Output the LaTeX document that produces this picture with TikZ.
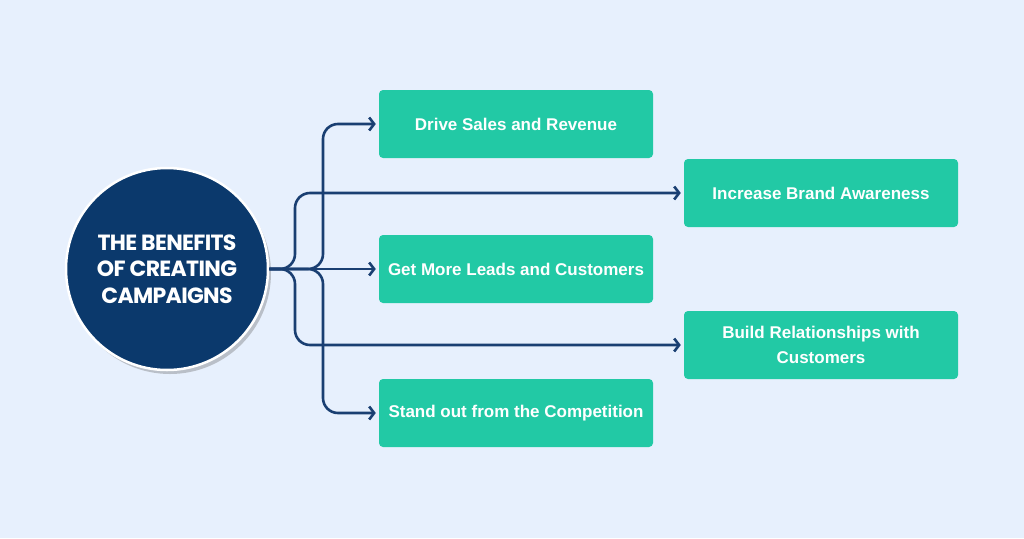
\documentclass[tikz,border=0pt]{standalone}
\usepackage{fontspec}
\usepackage{tikz}
\usetikzlibrary{arrows.meta,shadows}
\setmainfont{Liberation Sans}
\newfontfamily\hubfont[LetterSpace=-3]{Poppins}
\definecolor{cpbg}{HTML}{E7F0FD}
\definecolor{cpnavy}{HTML}{0B396C}
\definecolor{cpline}{HTML}{1A3F72}
\definecolor{cpteal}{HTML}{22C9A5}

\begin{document}
\begin{tikzpicture}[x=1pt,y=-1pt,
   benefit/.style={fill=cpteal,rounded corners=4pt,minimum width=274pt,
                   minimum height=68pt,align=center,text=white,
                   font=\fontsize{17}{25}\selectfont\bfseries},
   hub/.style={circle,fill=cpnavy,draw=white,line width=2.5pt,
               minimum size=202pt,align=center,text=white,
               drop shadow={shadow xshift=3pt,shadow yshift=-4pt,
                            opacity=.35,fill=black!60},
               font=\hubfont\fontsize{22}{26.5}\selectfont\bfseries},
   link/.style={line width=2.6pt,cpline,rounded corners=15pt,
                -{Straight Barb[length=5pt,width=13pt,line width=2.6pt]},
                shorten >=3pt}]
  \fill[cpbg] (0,0) rectangle (1024,538);
  \useasboundingbox (0,0) rectangle (1024,538);
  % hub and the five benefits
  \node[hub] (hub) at (167,269) {THE BENEFITS\\OF CREATING\\CAMPAIGNS};
  \node[benefit] (b1) at (516,124) {Drive Sales and Revenue};
  \node[benefit] (b2) at (821,193) {Increase Brand Awareness};
  \node[benefit] (b3) at (516,269) {Get More Leads and Customers};
  \node[benefit] (b4) at (821,345) {Build Relationships with\\Customers};
  \node[benefit] (b5) at (516,413) {Stand out from the Competition};
  % spines of the brace
  \coordinate (inner) at (295,269);
  \coordinate (outer) at (323,269);
  \draw[link] (hub.east) -- (inner) |- (b2.west);
  \draw[link] (hub.east) -- (inner) |- (b4.west);
  \draw[link] (hub.east) -- (outer) |- (b1.west);
  \draw[link] (hub.east) -- (outer) |- (b5.west);
  \draw[link] (hub.east) -- (b3.west);
\end{tikzpicture}
\end{document}
